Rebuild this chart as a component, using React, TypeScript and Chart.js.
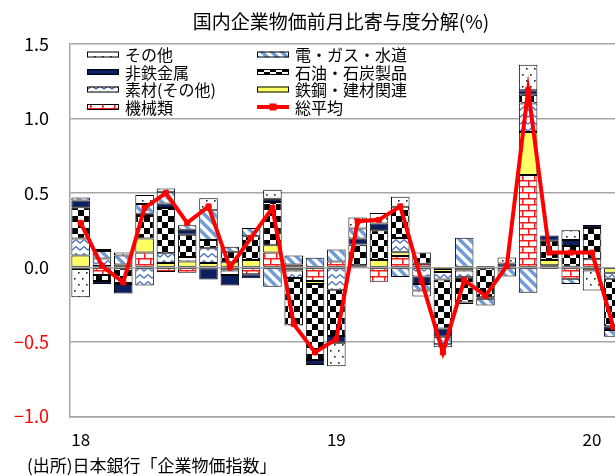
import React, { useEffect, useRef } from 'react';
import { Chart, registerables } from 'chart.js';

Chart.register(...registerables);

// ---- data (monthly, Jan 2018 – Feb 2020) ----
const months = [
  '2018-01', '2018-02', '2018-03', '2018-04', '2018-05', '2018-06',
  '2018-07', '2018-08', '2018-09', '2018-10', '2018-11', '2018-12',
  '2019-01', '2019-02', '2019-03', '2019-04', '2019-05', '2019-06',
  '2019-07', '2019-08', '2019-09', '2019-10', '2019-11', '2019-12',
  '2020-01', '2020-02',
];
const xTickLabels = [
  '18', '', '', '', '', '', '', '', '', '', '', '',
  '19', '', '', '', '', '', '', '', '', '', '', '',
  '20', '',
];

const kikai = [-0.01, -0.05, 0, 0.1, -0.03, -0.035, 0, -0.02, -0.045, 0.1, 0.02, -0.09, 0.04, 0.015, -0.095, 0.078, 0.025, -0.01, 0, 0.01, 0, 0.62, 0.015, -0.075, 0.055, 0];
const tekko = [0.08, 0.01, 0.02, 0.095, 0.03, 0.04, 0.03, 0.035, 0.05, 0.05, -0.02, -0.02, 0, 0, 0.05, 0.025, 0, -0.02, -0.02, 0, 0, 0.29, 0.035, 0, -0.02, -0.035];
const sozai = [0.115, 0.05, 0, -0.12, 0.065, 0.03, 0.1, -0.03, 0, 0, -0.05, 0, -0.15, 0, 0, 0.095, -0.06, -0.05, -0.045, 0, 0, 0.19, 0, 0, 0, -0.04];
const sekiyu = [0.21, -0.04, -0.11, 0.15, 0.305, 0.15, 0.055, 0.07, 0.16, 0.29, -0.32, -0.51, -0.31, 0.14, 0.2, 0.21, 0.075, -0.33, -0.17, -0.2, 0, 0.06, 0.13, 0.145, 0.21, -0.32];
const hitetsu = [0.045, -0.02, -0.065, 0.015, 0.03, 0.033, -0.08, -0.07, -0.027, 0.022, 0, -0.035, -0.045, 0.04, 0.045, 0, -0.05, -0.055, -0.01, -0.01, 0.027, 0.03, 0.035, 0.04, 0.02, -0.025];
const dengas = [0.02, 0.05, 0.06, 0.067, 0.075, 0.03, 0.2, 0.035, 0.055, -0.13, 0.06, 0.065, 0.08, 0.067, 0, -0.063, -0.045, -0.05, 0.2, -0.045, -0.06, -0.17, -0.01, -0.035, 0, -0.045];
const sonota = [-0.19, 0.015, 0.02, 0.06, 0.025, 0, 0.08, 0, 0, 0.06, 0, 0, -0.157, 0.074, 0.07, 0.067, -0.04, -0.02, 0, 0, 0.04, 0.17, 0, 0.065, -0.135, 0];
const total = [0.3, 0.01, -0.1, 0.4, 0.5, 0.3, 0.41, 0.0, 0.2, 0.4, -0.38, -0.57, -0.48, 0.31, 0.32, 0.41, -0.09, -0.57, -0.085, -0.19, 0.01, 1.19, 0.1, 0.1, 0.1, -0.4];

const seriesNames = ['機械類', '鉄鋼・建材関連', '素材(その他)', '石油・石炭製品', '非鉄金属', '電・ガス・水道', 'その他'];
const seriesValues = [kikai, tekko, sozai, sekiyu, hitetsu, dengas, sonota];
const totalName = '総平均';
const legendOrder = ['その他', '電・ガス・水道', '非鉄金属', '石油・石炭製品', '素材(その他)', '鉄鋼・建材関連', '機械類', '総平均'];

const titleText = '国内企業物価前月比寄与度分解(%)';
const footerText = '(出所)日本銀行「企業物価指数」';

const FONT = "'Noto Sans CJK JP', 'Noto Sans', sans-serif";

function makeTile(w: number, h: number, draw: (g: CanvasRenderingContext2D) => void): CanvasPattern {
  const c = document.createElement('canvas');
  c.width = w;
  c.height = h;
  const g = c.getContext('2d')!;
  g.fillStyle = '#ffffff';
  g.fillRect(0, 0, w, h);
  draw(g);
  return g.createPattern(c, 'repeat')!;
}

function buildFills(): (string | CanvasPattern)[] {
  const brick = makeTile(12, 12, (g) => {
    g.strokeStyle = '#ff1a1a';
    g.lineWidth = 1.5;
    g.beginPath();
    g.moveTo(0, 0.75); g.lineTo(12, 0.75);
    g.moveTo(0, 6.75); g.lineTo(12, 6.75);
    g.moveTo(0.75, 0); g.lineTo(0.75, 6.75);
    g.moveTo(6.75, 6.75); g.lineTo(6.75, 12);
    g.stroke();
  });
  const yellow = '#ffff66';
  const wave = makeTile(8, 7, (g) => {
    g.strokeStyle = '#4a6fc0';
    g.lineWidth = 1.4;
    g.beginPath();
    g.moveTo(0, 5.2); g.lineTo(4, 1.6); g.lineTo(8, 5.2);
    g.stroke();
  });
  const checker = makeTile(12, 12, (g) => {
    g.fillStyle = '#000000';
    g.fillRect(0, 0, 6, 6);
    g.fillRect(6, 6, 6, 6);
  });
  const navy = '#0b1f5e';
  const stripes = makeTile(10, 10, (g) => {
    g.strokeStyle = '#6f9bd6';
    g.lineWidth = 3.5;
    g.beginPath();
    g.moveTo(-3, -3); g.lineTo(13, 13);
    g.moveTo(-3, 7); g.lineTo(3, 13);
    g.moveTo(7, -3); g.lineTo(13, 3);
    g.stroke();
  });
  const dots = makeTile(8, 12, (g) => {
    g.fillStyle = '#222222';
    g.fillRect(2, 2, 1.6, 1.6);
    g.fillRect(6, 8, 1.6, 1.6);
  });
  return [brick, yellow, wave, checker, navy, stripes, dots];
}

export default function App() {
  const ref = useRef<HTMLCanvasElement>(null);

  useEffect(() => {
    document.body.style.margin = '0';
    const canvas = ref.current;
    if (!canvas) return;
    const fills = buildFills();

    const barSets = seriesNames.map((name, i) => ({
      type: 'bar' as const,
      label: name,
      data: seriesValues[i],
      backgroundColor: fills[i],
      borderColor: '#000000',
      borderWidth: 1,
      borderSkipped: false as const,
      barPercentage: 0.87,
      categoryPercentage: 1,
      stack: 'bars',
      order: 1,
    }));

    const lineSet = {
      type: 'line' as const,
      label: totalName,
      data: total,
      borderColor: '#ff0000',
      backgroundColor: '#ff0000',
      borderWidth: 4,
      pointRadius: 3.5,
      pointStyle: 'rect' as const,
      pointBorderWidth: 1,
      pointBackgroundColor: '#ff0000',
      pointBorderColor: '#ff0000',
      fill: false,
      tension: 0,
      stack: 'line',
      order: 0,
    };

    const overlay = {
      id: 'overlay',
      afterDraw(chart: any) {
        const g: CanvasRenderingContext2D = chart.ctx;
        g.save();
        // title
        g.fillStyle = '#000';
        g.font = `19px ${FONT}`;
        g.textAlign = 'center';
        g.textBaseline = 'middle';
        g.fillText(titleText, 341, 22);
        // footer
        g.font = `17px ${FONT}`;
        g.textAlign = 'left';
        g.fillText(footerText, 27, 466);
        // legend
        const colX = [87, 257];
        const rowY = [54.5, 72, 89.5, 107];
        const sw = 32;
        const sh = 6;
        g.font = `16px ${FONT}`;
        legendOrder.forEach((name, k) => {
          const x = colX[k % 2];
          const y = rowY[Math.floor(k / 2)];
          const ds = chart.data.datasets.find((d: any) => d.label === name);
          if (!ds) return;
          if (ds.type === 'line') {
            g.strokeStyle = '#ff0000';
            g.lineWidth = 4;
            g.beginPath();
            g.moveTo(x, y);
            g.lineTo(x + sw, y);
            g.stroke();
            g.fillStyle = '#ff0000';
            g.fillRect(x + sw / 2 - 3.5, y - 3.5, 7, 7);
          } else {
            g.fillStyle = ds.backgroundColor;
            g.fillRect(x, y - sh / 2, sw, sh);
            g.strokeStyle = '#000';
            g.lineWidth = 1;
            g.strokeRect(x + 0.5, y - sh / 2 + 0.5, sw - 1, sh - 1);
          }
          g.fillStyle = '#000';
          g.textAlign = 'left';
          g.textBaseline = 'middle';
          g.fillText(name, x + sw + 6, y + 0.5);
        });
        g.restore();
      },
    };

    const chart = new Chart(canvas, {
      data: {
        labels: months,
        datasets: [...barSets, lineSet] as any,
      },
      options: {
        responsive: false,
        animation: false,
        events: [],
        layout: { padding: { top: 44, right: 6, left: 0, bottom: 0 } },
        font: { family: FONT },
        plugins: {
          legend: { display: false },
          tooltip: { enabled: false },
          title: { display: false },
        },
        scales: {
          x: {
            type: 'category',
            stacked: true,
            offset: true,
            grid: { display: false, drawTicks: false },
            border: { display: true, color: '#a6a6a6', width: 1.5 },
            ticks: {
              autoSkip: false,
              maxRotation: 0,
              minRotation: 0,
              padding: 13,
              color: '#000',
              font: { family: FONT, size: 17 },
              callback: (_v: any, i: number) => xTickLabels[i],
            },
            afterFit: (s: any) => { s.height = 59.5; },
          },
          y: {
            stacked: true,
            min: -1,
            max: 1.5,
            grid: { color: '#a6a6a6', lineWidth: 1.5, drawTicks: false },
            border: { display: true, color: '#a6a6a6', width: 1.5 },
            ticks: {
              stepSize: 0.5,
              padding: 21,
              font: { family: FONT, size: 18 },
              color: (c: any) => (c.tick && c.tick.value < 0 ? '#ff0000' : '#000000'),
              callback: (v: any) => {
                const n = Number(v);
                return n < 0 ? '\u2212' + Math.abs(n).toFixed(1) : n.toFixed(1);
              },
            },
            afterFit: (s: any) => { s.width = 70; },
          },
        },
      } as any,
      plugins: [overlay],
    });

    return () => chart.destroy();
  }, []);

  return (
    <div style={{ width: 615, height: 476, overflow: 'hidden', position: 'relative', background: '#fff' }}>
      <canvas ref={ref} width={630} height={476} style={{ display: 'block' }} />
    </div>
  );
}
